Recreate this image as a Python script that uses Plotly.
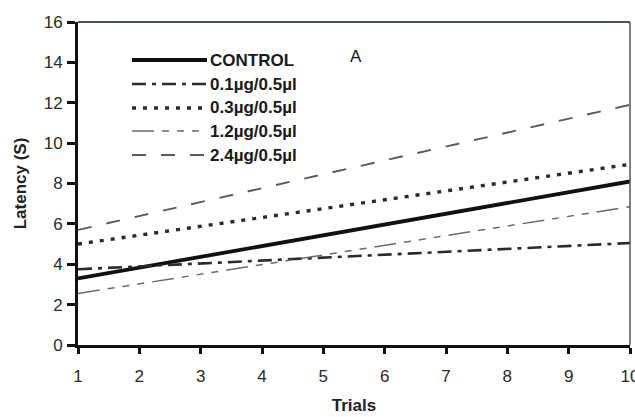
import plotly.graph_objects as go

# Regression lines of latency over trials: values at the first and last trial
trials = [1, 10]
control = [3.3, 8.1]
dose_01 = [3.75, 5.05]
dose_03 = [5.0, 8.95]
dose_12 = [2.55, 6.85]
dose_24 = [5.7, 11.9]

series_names = ["CONTROL", "0.1\u00b5g/0.5\u00b5l", "0.3\u00b5g/0.5\u00b5l",
                "1.2\u00b5g/0.5\u00b5l", "2.4\u00b5g/0.5\u00b5l"]
x_ticks = [1, 2, 3, 4, 5, 6, 7, 8, 9, 10]
y_ticks = [0, 2, 4, 6, 8, 10, 12, 14, 16]

FONT = "Liberation Sans, Arial, sans-serif"

styles = [
    dict(color="#111111", width=3.8, dash="solid"),
    dict(color="#2a2a2a", width=2.6, dash="14px,6px,4px,6px"),
    dict(color="#2a2a2a", width=3.4, dash="4px,7px"),
    dict(color="#6a6a6a", width=1.5, dash="22px,8px,7px,8px,7px,8px,7px,8px"),
    dict(color="#5a5a5a", width=1.9, dash="14px,15px"),
]

# plot-area geometry in pixels (used to place the key in paper coordinates)
W, H = 635, 417
ML, MR, MT, MB = 78, 5, 22, 72
PW, PH = W - ML - MR, H - MT - MB


def px_x(p):
    return (p - ML) / PW


def px_y(p):
    return (H - MB - p) / PH


fig = go.Figure()
for name, ys, st in zip(series_names,
                        [control, dose_01, dose_03, dose_12, dose_24], styles):
    fig.add_trace(go.Scatter(x=trials, y=ys, mode="lines", name=name,
                             line=st, showlegend=False))

# key: long line samples followed by the series labels
key_rows = [60, 84, 108, 131, 155]
for name, st, row in zip(series_names, styles, key_rows):
    fig.add_shape(type="line", xref="paper", yref="paper",
                  x0=px_x(132), x1=px_x(207), y0=px_y(row), y1=px_y(row),
                  line=dict(color=st["color"], width=st["width"], dash=st["dash"]))
    fig.add_annotation(text=name, xref="paper", yref="paper",
                       x=px_x(208), y=px_y(row), xanchor="left", yanchor="middle",
                       showarrow=False,
                       font=dict(family=FONT, size=17, color="#1a1a1a", weight="bold"))

# thin frame on top and right
fig.add_shape(type="line", xref="paper", yref="paper", x0=0, x1=1, y0=1, y1=1,
              line=dict(color="#4a5560", width=2))
fig.add_shape(type="line", xref="paper", yref="paper", x0=1, x1=1, y0=0, y1=1,
              line=dict(color="#555555", width=1.5))

fig.add_annotation(text="A", xref="paper", yref="paper", x=px_x(356), y=px_y(45),
                   showarrow=False, font=dict(family=FONT, size=17, color="#111111"))

fig.update_layout(
    width=W, height=H,
    margin=dict(l=ML, r=MR, t=MT, b=MB),
    paper_bgcolor="white", plot_bgcolor="white",
    font=dict(family=FONT, color="#222222"),
    showlegend=False,
    xaxis=dict(
        range=[1, 10], tickvals=x_ticks, ticks="outside", ticklen=6, tickwidth=2.5,
        tickcolor="#111111", showline=True, linecolor="#111111", linewidth=3,
        showgrid=False, zeroline=False, ticklabelstandoff=8,
        ticklabeloverflow="allow", automargin=False,
        tickfont=dict(family=FONT, size=17, color="#2a2a2a"),
        title=dict(text="Trials", standoff=14,
                   font=dict(family=FONT, size=17, color="#222222", weight="bold")),
    ),
    yaxis=dict(
        range=[0, 16], tickvals=y_ticks, ticks="outside", ticklen=8, tickwidth=2.5,
        tickcolor="#111111", showline=True, linecolor="#111111", linewidth=3,
        showgrid=False, zeroline=False, ticklabelstandoff=1, automargin=False,
        tickfont=dict(family=FONT, size=17, color="#2a2a2a"),
        title=dict(text="Latency (S)", standoff=13,
                   font=dict(family=FONT, size=17, color="#222222", weight="bold")),
    ),
)

fig.write_html("out.html")
